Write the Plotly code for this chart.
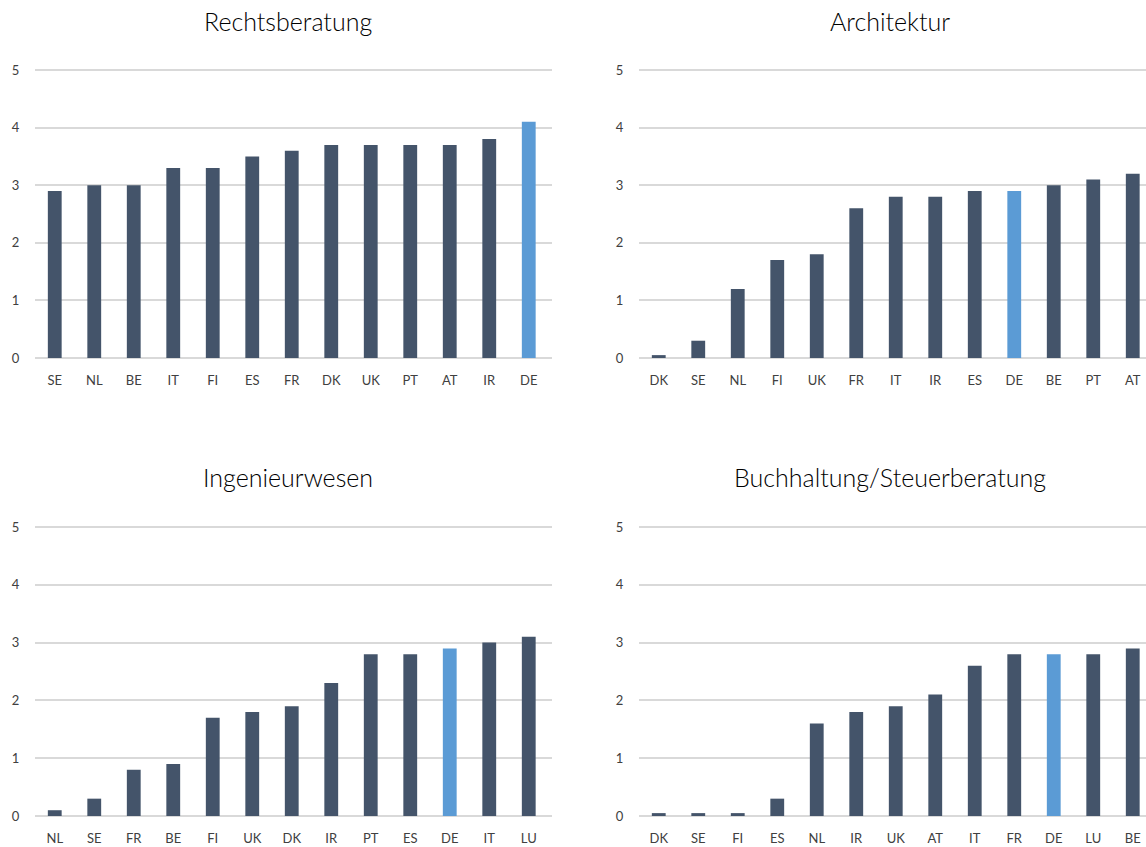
import plotly.graph_objects as go

# ---- data ----
titles = ["Rechtsberatung", "Architektur", "Ingenieurwesen", "Buchhaltung/Steuerberatung"]

recht_cats = ["SE", "NL", "BE", "IT", "FI", "ES", "FR", "DK", "UK", "PT", "AT", "IR", "DE"]
recht_vals = [2.9, 3.0, 3.0, 3.3, 3.3, 3.5, 3.6, 3.7, 3.7, 3.7, 3.7, 3.8, 4.1]

arch_cats = ["DK", "SE", "NL", "FI", "UK", "FR", "IT", "IR", "ES", "DE", "BE", "PT", "AT"]
arch_vals = [0.05, 0.3, 1.2, 1.7, 1.8, 2.6, 2.8, 2.8, 2.9, 2.9, 3.0, 3.1, 3.2]

ing_cats = ["NL", "SE", "FR", "BE", "FI", "UK", "DK", "IR", "PT", "ES", "DE", "IT", "LU"]
ing_vals = [0.1, 0.3, 0.8, 0.9, 1.7, 1.8, 1.9, 2.3, 2.8, 2.8, 2.9, 3.0, 3.1]

buch_cats = ["DK", "SE", "FI", "ES", "NL", "IR", "UK", "AT", "IT", "FR", "DE", "LU", "BE"]
buch_vals = [0.05, 0.05, 0.05, 0.3, 1.6, 1.8, 1.9, 2.1, 2.6, 2.8, 2.8, 2.8, 2.9]

y_ticks = [0, 1, 2, 3, 4, 5]

# ---- styling ----
W, H = 1146, 847
DARK = "#44546a"
HIGHLIGHT = "#5b9bd5"
GRID = "#d9d9d9"
TXT = "#404040"
FONT = "Lato, Carlito, Calibri, 'Open Sans', sans-serif"

panels = [
    (recht_cats, recht_vals, (35, 552), (70, 358)),
    (arch_cats, arch_vals, (639, 1146), (70, 358)),
    (ing_cats, ing_vals, (35, 552), (527, 816)),
    (buch_cats, buch_vals, (639, 1146), (527, 816)),
]
cat_px = 39.5
pad = 0.05  # small y padding so gridlines at 0 and 5 are drawn

fig = go.Figure()
layout = {}
for i, (cats, vals, (x0, x1), (ytop, ybot)) in enumerate(panels):
    n = i + 1
    xa = "x" if n == 1 else f"x{n}"
    ya = "y" if n == 1 else f"y{n}"
    colors = [HIGHLIGHT if c == "DE" else DARK for c in cats]
    fig.add_trace(go.Bar(
        x=cats, y=vals, xaxis=xa, yaxis=ya,
        marker=dict(color=colors, line=dict(width=0)),
        width=0.35, showlegend=False, hoverinfo="x+y",
    ))
    xr_end = -0.5 + (x1 - x0) / cat_px
    px_per_unit = (ybot - ytop) / 5.0
    ptop = ytop - pad * px_per_unit
    pbot = ybot + pad * px_per_unit
    layout[f"xaxis{'' if n == 1 else n}"] = dict(
        domain=[x0 / W, x1 / W], anchor=ya,
        range=[-0.5, xr_end], type="category",
        showgrid=False, zeroline=False, showline=False,
        ticks="outside", ticklen=8, tickcolor="rgba(0,0,0,0)",
        tickfont=dict(family=FONT, size=13, color=TXT),
        fixedrange=True, automargin=False,
    )
    layout[f"yaxis{'' if n == 1 else n}"] = dict(
        domain=[1 - pbot / H, 1 - ptop / H], anchor=xa,
        range=[-pad, 5 + pad], tickvals=y_ticks,
        showgrid=True, gridcolor=GRID, gridwidth=2,
        zeroline=False, showline=False,
        ticks="outside", ticklen=12, tickcolor="rgba(0,0,0,0)",
        tickfont=dict(family=FONT, size=13, color=TXT),
        fixedrange=True, automargin=False,
    )

annotations = []
title_pos = [(288, 21), (890, 21), (288, 477), (890, 477)]
for t, (tx, ty) in zip(titles, title_pos):
    annotations.append(dict(
        text=t, x=tx / W, y=1 - ty / H, xref="paper", yref="paper",
        xanchor="center", yanchor="middle", showarrow=False,
        font=dict(family=FONT, size=25, color="#000000", weight=300),
    ))

fig.update_layout(
    width=W, height=H,
    margin=dict(l=0, r=0, t=0, b=0, pad=0, autoexpand=False),
    paper_bgcolor="white", plot_bgcolor="white",
    annotations=annotations,
    **layout,
)

fig.write_html("out.html", config={"displayModeBar": False})
